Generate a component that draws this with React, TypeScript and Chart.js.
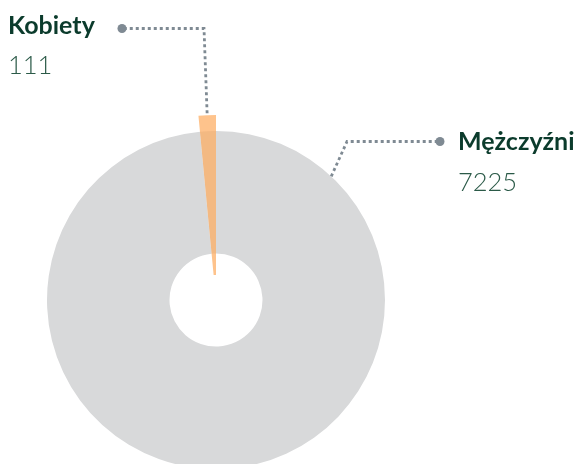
import React, { useEffect, useRef } from "react";
import { Chart, registerables } from "chart.js";

Chart.register(...registerables);

const categories = ["Mężczyźni", "Kobiety"];
const values = [7225, 111];
const valueLabels = ["7225", "111"];

const GRAY = "#d8d9da";
const ORANGE = "rgba(253,172,95,0.72)";
const TITLE_COLOR = "#0b3b2c";
const VALUE_COLOR = "#2b5a48";
const LINE_COLOR = "#7f8a93";

const radiiPlugin = {
  id: "radii",
  afterDatasetsUpdate(chart: any) {
    const orange = chart.getDatasetMeta(0);
    const gray = chart.getDatasetMeta(1);
    orange.data.forEach((el: any) => {
      el.innerRadius = 25;
      el.outerRadius = 185;
    });
    gray.data.forEach((el: any) => {
      el.innerRadius = 46.5;
      el.outerRadius = 169;
    });
  },
};

function dotted(ctx: CanvasRenderingContext2D, pts: number[][], dot: number[]) {
  ctx.save();
  ctx.strokeStyle = LINE_COLOR;
  ctx.lineWidth = 2.8;
  ctx.setLineDash([3, 3]);
  ctx.beginPath();
  ctx.moveTo(pts[0][0], pts[0][1]);
  for (let i = 1; i < pts.length; i++) ctx.lineTo(pts[i][0], pts[i][1]);
  ctx.stroke();
  ctx.setLineDash([]);
  ctx.fillStyle = LINE_COLOR;
  ctx.beginPath();
  ctx.arc(dot[0], dot[1], 4.5, 0, Math.PI * 2);
  ctx.fill();
  ctx.restore();
}

const labelPlugin = {
  id: "labels",
  afterDraw(chart: any) {
    const ctx: CanvasRenderingContext2D = chart.ctx;
    const orangeArc = chart.getDatasetMeta(0).data[1];
    const grayArc = chart.getDatasetMeta(1).data[0];
    const midA = (orangeArc.startAngle + orangeArc.endAngle) / 2;
    const ox = orangeArc.x + Math.cos(midA) * (orangeArc.outerRadius + 2);
    const oy = orangeArc.y + Math.sin(midA) * (orangeArc.outerRadius + 2);
    dotted(ctx, [[ox, oy], [204, 28.5], [122, 28.5]], [122, 28.5]);
    const a = -Math.PI / 2 + (43 * Math.PI) / 180;
    const gx = grayArc.x + Math.cos(a) * grayArc.outerRadius;
    const gy = grayArc.y + Math.sin(a) * grayArc.outerRadius;
    dotted(ctx, [[gx, gy], [347, 141.5], [440, 141.5]], [440, 141.5]);

    ctx.save();
    ctx.textAlign = "left";
    ctx.textBaseline = "alphabetic";
    ctx.fillStyle = TITLE_COLOR;
    ctx.font = "bold 25px Lato";
    ctx.fillText(categories[1], 8, 34);
    ctx.fillText(categories[0], 458, 150);
    ctx.fillStyle = VALUE_COLOR;
    ctx.font = "300 25.5px Lato";
    ctx.fillText(valueLabels[1], 8, 74);
    ctx.fillText(valueLabels[0], 458, 191);
    ctx.restore();
  },
};

export default function App() {
  const ref = useRef<HTMLCanvasElement>(null);
  useEffect(() => {
    if (!ref.current) return;
    const chart = new Chart(ref.current, {
      type: "doughnut",
      data: {
        labels: categories,
        datasets: [
          {
            data: values,
            backgroundColor: ["rgba(0,0,0,0)", ORANGE],
            borderWidth: 0,
          },
          {
            data: values,
            backgroundColor: [GRAY, GRAY],
            borderWidth: 0,
          },
        ],
      },
      options: {
        responsive: false,
        animation: false,
        layout: { padding: { left: 47, right: 194, top: 136, bottom: 0 } },
        radius: 169,
        cutout: "27.5%",
        plugins: { legend: { display: false }, tooltip: { enabled: false } },
        events: [],
      },
      plugins: [radiiPlugin, labelPlugin],
    });
    return () => chart.destroy();
  }, []);
  return (
    <div style={{ position: "absolute", left: 0, top: 0, width: 579, height: 464, background: "#fff" }}>
      <canvas ref={ref} width={579} height={464} />
    </div>
  );
}
